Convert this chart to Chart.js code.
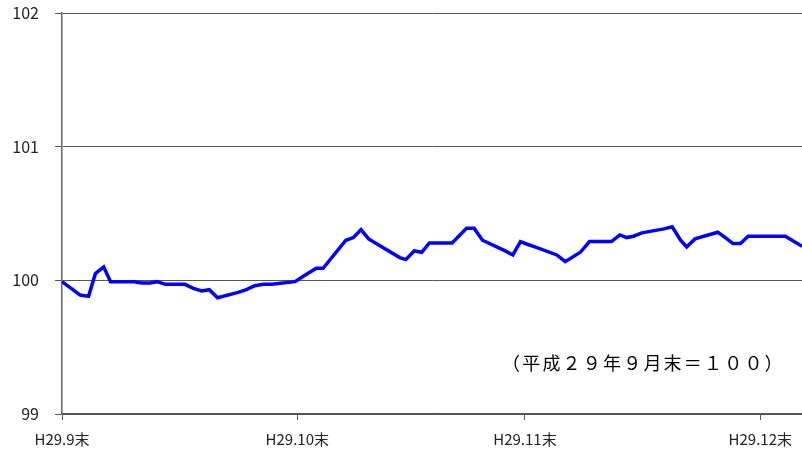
<!DOCTYPE html>
<html><head><meta charset="utf-8">
<script src="https://cdn.jsdelivr.net/npm/chart.js@4"></script>
<style>html,body{margin:0;padding:0;background:#fff}#wrap{width:802px;height:455px}</style>
</head><body><div id="wrap"><canvas id="c" width="802" height="455"></canvas></div>
<script>
// Days elapsed since end of Sep 2017 (H29.9末) at each plotted observation
const dayOffsets = [0, 2.4, 3.5, 4.4, 5.5, 6.4, 9.5, 10.5, 11.6, 12.5, 13.6, 16.2, 17.3, 18.4, 19.4, 20.5,
  23.2, 24.3, 25.4, 26.5, 27.6, 30.7, 31.8, 33.5, 34.4, 37.4, 38.4, 39.4, 40.4, 44.5, 45.3, 46.4, 47.4,
  48.4, 51.4, 53.3, 54.3, 55.4, 58.4, 59.4, 60.4, 61.3, 62.3, 65.2, 66.3, 68.3, 69.5, 72.4, 73.5, 74.4,
  75.3, 76.4, 79.3, 80.4, 81.5, 82.3, 83.4, 86.4, 87.4, 88.4, 89.4, 90.4, 95.3, 97.5];
// Index values (H29.9末 = 100)
const indexValues = [99.99, 99.89, 99.88, 100.05, 100.10, 99.99, 99.99, 99.98, 99.98, 99.99, 99.97, 99.97,
  99.94, 99.92, 99.93, 99.87, 99.91, 99.93, 99.96, 99.97, 99.97, 99.99, 100.03, 100.09, 100.09, 100.30,
  100.32, 100.38, 100.31, 100.17, 100.155, 100.22, 100.21, 100.28, 100.28, 100.39, 100.39, 100.30, 100.22,
  100.19, 100.29, 100.27, 100.25, 100.19, 100.14, 100.21, 100.29, 100.29, 100.34, 100.32, 100.33, 100.355,
  100.385, 100.40, 100.30, 100.25, 100.31, 100.36, 100.32, 100.275, 100.275, 100.33, 100.33, 100.255];
const tickDays = [0, 31, 61, 92];
const tickLabels = ['H29.9末', 'H29.10末', 'H29.11末', 'H29.12末'];
const yMin = 99, yMax = 102;
const noteText = '（平成２９年９月末＝１００）';

const points = dayOffsets.map((d, i) => ({x: d, y: indexValues[i]}));

const notePlugin = {
  id: 'note',
  afterDraw(chart) {
    const ctx = chart.ctx;
    ctx.save();
    ctx.font = '18px "Noto Sans CJK JP"';
    ctx.fillStyle = '#000';
    ctx.textBaseline = 'middle';
    ctx.textAlign = 'center';
    const pitch = 20.2, c0 = 511;
    Array.from(noteText).forEach((ch, i) => ctx.fillText(ch, c0 + pitch * i, 363));
    ctx.restore();
  }
};

new Chart(document.getElementById('c'), {
  type: 'line',
  data: { datasets: [{ data: points, borderColor: '#0000ff', borderWidth: 3.5, pointRadius: 0, tension: 0, fill: false }] },
  options: {
    responsive: false, animation: false, devicePixelRatio: 1,
    layout: { padding: { top: 13, right: 0, left: 0, bottom: 0 } },
    plugins: { legend: { display: false }, tooltip: { enabled: false } },
    scales: {
      x: {
        type: 'linear', min: 0, max: 97.5,
        afterBuildTicks(scale) { scale.ticks = tickDays.map(v => ({ value: v })); },
        afterFit(scale) { scale.height = 41; scale.paddingLeft = 0; scale.paddingRight = 0; },
        ticks: {
          autoSkip: false, maxRotation: 0, padding: 10, color: '#222',
          font: { family: '"Noto Sans CJK JP"', size: 15 },
          callback(v) { const i = tickDays.indexOf(v); return i >= 0 ? tickLabels[i] : ''; }
        },
        grid: { drawOnChartArea: false, drawTicks: true, tickLength: 6, color: '#555', lineWidth: 1 },
        border: { color: '#555', width: 1.5 }
      },
      y: {
        type: 'linear', min: yMin, max: yMax,
        afterFit(scale) { scale.width = 62; scale.paddingTop = 0; scale.paddingBottom = 0; },
        ticks: { stepSize: 1, padding: 16, color: '#222', font: { family: '"Noto Sans CJK JP"', size: 16 } },
        grid: { drawOnChartArea: true, drawTicks: true, tickLength: 7, color: '#555', lineWidth: 1 },
        border: { color: '#666', width: 1.5 }
      }
    }
  },
  plugins: [notePlugin]
});
</script>
</body></html>
